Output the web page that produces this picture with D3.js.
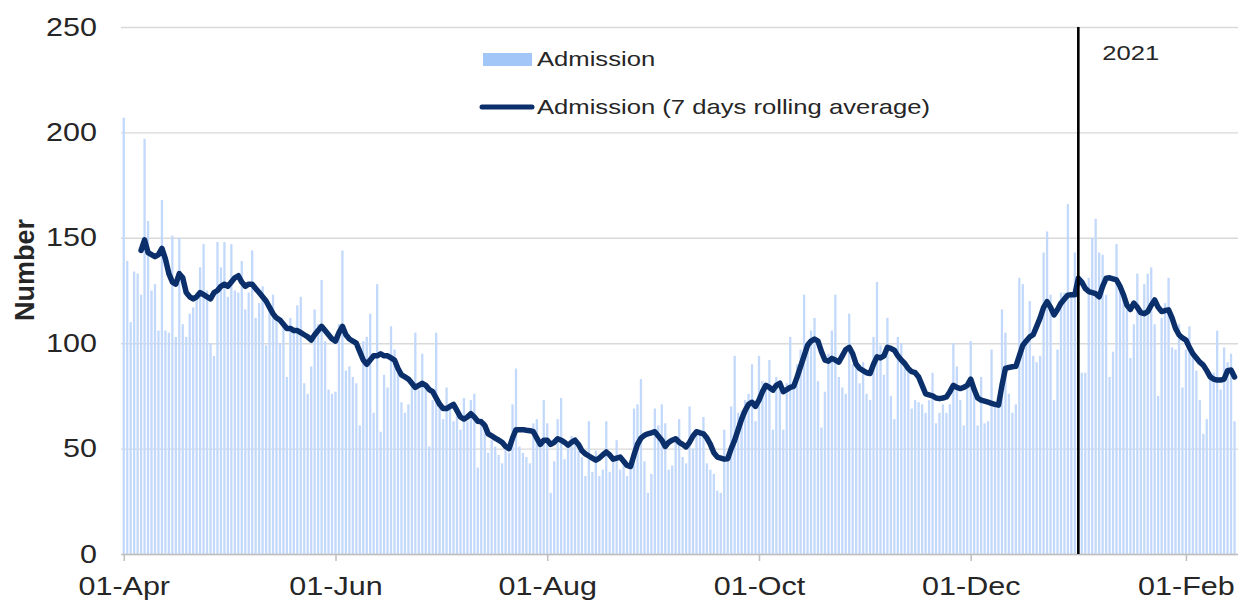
<!DOCTYPE html>
<html>
<head>
<meta charset="utf-8">
<script src="https://cdn.jsdelivr.net/npm/d3@7"></script>
<style>
  body { margin: 0; background: #fff; }
  text { font-family: "Liberation Sans", Arial, sans-serif; fill: #262626; }
</style>
</head>
<body>
<svg width="1238" height="603"></svg>
<script>
// daily admissions, from 01-Apr-2020
const admissions = [
  207,139,110,134,133,123,197,158,125,128, 106,168,106,105,151,103,150,109,103,114,
  117,122,136,147,125,100,94,148,136,148, 122,147,125,124,139,116,124,144,112,119,
  127,99,116,123,112,100,109,84,112,105, 118,122,81,76,89,116,109,130,101,78,
  76,77,109,144,87,89,84,81,61,101, 103,114,67,128,58,85,79,108,97,89,
  72,67,71,81,105,78,95,79,51,73, 105,71,64,79,69,63,70,59,74,63,
  73,76,41,62,63,48,54,51,47,43, 52,48,71,88,51,48,46,43,62,64,
  51,73,62,29,44,64,74,45,51,56, 53,49,46,37,63,39,49,37,40,63,
  39,46,54,40,44,37,41,69,71,83, 44,29,38,69,61,71,62,40,42,56,
  64,46,43,70,50,58,59,65,43,40, 38,30,29,59,45,70,94,67,68,73,
  76,90,63,94,82,79,92,59,84,82, 59,81,103,79,90,97,123,101,106,112,
  82,60,77,95,106,123,84,79,76,114, 90,92,81,91,76,73,103,129,99,85,
  112,75,64,103,100,92,87,69,73,72, 71,67,73,86,62,67,71,67,71,100,
  89,73,61,80,101,78,61,84,62,63, 97,71,74,116,105,76,67,71,131,128,
  101,120,94,91,94,143,153,123,73,97, 124,124,166,123,143,132,86,86,131,150,
  159,143,142,123,84,96,147,125,122,116, 93,109,133,116,128,133,136,109,75,112,
  119,131,98,97,109,79,97,108,94,87, 73,57,64,86,86,106,78,98,91,95,
  63
];

// 7 days rolling average (same days, empty for the first five)
const rollingAvg = [
  null,null,null,null,null,144,149,143,142,141, 142,145,140,133,129,128,133,131,124,122,
  121,122,124,123,122,121,124,125,127,128, 127,129,131,132,129,127,128,128,126,124,
  122,120,117,114,112,111,109,107,107,106, 106,105,104,103,101.5,104,106,108,106,104,
  102,101,105,108,104,102,101,100,96,92, 90,92,94,94,95,94,94,93,92,88,
  85,84,83,81,79,80,81,80,78,77, 74,71,69,69,70,71,68,65,64,65,
  66.6,65,63,62.7,61,57,56,55,54,53, 51,50,55,59,59,59,58.7,58.5,58,55,
  52,54,54,52,53,54.7,54,53,51.6,53, 54,52,49,47.5,46.5,45.5,44.5,45.5,47,48.4,
  47,45,45.5,46,44,42,41.5,47,52,55, 56.3,57,57.5,58,56,54,51,53,54,54.7,
  53,52,50.8,53,56,58,57.5,57,55,52, 48,46,45.5,45,45.2,50,54,59,64,68,
  71,72,70,73,77,80,79,77.7,80,81, 77,78,79,79.5,84,89,94,99,101,102,
  101,96,92,91.5,92.8,92,91,94,97,98, 95,90,88,87,86,85.6,90,93.5,93,94,
  98,97.5,96.7,94,92,90.4,88,86.5,86,84, 80,76,75.5,75,74,73.7,74,74.5,77,80,
  79,78.5,79,80,83,78,74,73,72.5,72, 71.5,71,70.6,80,88,88.5,88.8,89,94,99,
  101,103,104,108,112,117,119.7,117,113.4,116, 119,121,122.8,123,123,130.8,129,126,124.5,124,
  123.5,122,127,130.8,131,130.5,130,127,123,118, 116,119,117,114.5,114,115,118,120.5,117,115,
  115.5,115.8,112,107,104,102.5,101.5,98,95,93, 91,89.6,87,84,83,82.5,82.5,83,87,87.3,
  84
];

const startDate = '2020-04-01';
const xTickDates = ['2020-04-01','2020-06-01','2020-08-01','2020-10-01','2020-12-01','2021-02-01'];
const xTickLabels = ['01-Apr','01-Jun','01-Aug','01-Oct','01-Dec','01-Feb'];
const yTicks = [0,50,100,150,200,250];
const markerDate = '2021-01-01';
const markerLabel = '2021';
const seriesNames = ['Admission','Admission (7 days rolling average)'];
const yTitle = 'Number';

const svg = d3.select('svg');
const width = +svg.attr('width');
const height = +svg.attr('height');
const margin = {top: 27, right: 0, bottom: 49, left: 121};
const innerWidth = width - margin.left - margin.right;
const innerHeight = height - margin.top - margin.bottom;

// text in the original is a bit wider than normal Arial
const stretch = 1.22;
const widen = sel => sel.each(function() {
  const len = this.getComputedTextLength();
  d3.select(this)
    .attr('textLength', len * stretch)
    .attr('lengthAdjust', 'spacingAndGlyphs');
});

const parse = d3.utcParse('%Y-%m-%d');
const start = parse(startDate);
const data = admissions.map((v, i) => ({
  date: d3.utcDay.offset(start, i),
  value: v,
  avg: rollingAvg[i]
}));

const xScale = d3.scaleUtc()
  .domain([d3.utcHour.offset(start, -19), d3.utcDay.offset(start, admissions.length)])
  .range([0, innerWidth]);

const yScale = d3.scaleLinear()
  .domain([0, 250])
  .range([innerHeight, 0]);

const g = svg.append('g')
  .attr('transform', `translate(${margin.left},${margin.top})`);

// y axis + gridlines
const yAxisG = g.append('g')
  .call(d3.axisLeft(yScale).tickValues(yTicks).tickSize(-innerWidth).tickPadding(24));
yAxisG.select('.domain').remove();
yAxisG.selectAll('.tick line')
  .attr('stroke', '#d9d9d9')
  .attr('stroke-width', 1.4);
yAxisG.selectAll('.tick text')
  .attr('font-size', 25)
  .attr('fill', '#262626')
  .call(widen);

// bars
const barW = 2.3;
g.selectAll('rect.bar').data(data)
  .enter().append('rect')
    .attr('class', 'bar')
    .attr('x', d => xScale(d.date) - barW / 2)
    .attr('y', d => yScale(d.value))
    .attr('width', barW)
    .attr('height', d => innerHeight - yScale(d.value))
    .attr('fill', '#c3d9fb');

// x axis
const xAxis = d3.axisBottom(xScale)
  .tickValues(xTickDates.map(parse))
  .tickFormat((d, i) => xTickLabels[i])
  .tickSize(7)
  .tickSizeOuter(0)
  .tickPadding(16);
const xAxisG = g.append('g')
  .attr('transform', `translate(0,${innerHeight})`)
  .call(xAxis);
xAxisG.select('.domain')
  .attr('stroke', '#bfbfbf')
  .attr('stroke-width', 1.5);
xAxisG.selectAll('.tick line')
  .attr('stroke', '#bfbfbf')
  .attr('stroke-width', 1.5);
xAxisG.selectAll('.tick text')
  .attr('font-size', 25)
  .attr('fill', '#262626')
  .call(widen);

// rolling average line
const line = d3.line()
  .defined(d => d.avg != null)
  .x(d => xScale(d.date))
  .y(d => yScale(d.avg));

g.append('path')
  .datum(data)
  .attr('d', line)
  .attr('fill', 'none')
  .attr('stroke', '#0a2f6a')
  .attr('stroke-width', 5.5)
  .attr('stroke-linejoin', 'round')
  .attr('stroke-linecap', 'round');

// year marker
const mx = xScale(parse(markerDate));
g.append('line')
  .attr('x1', mx).attr('x2', mx)
  .attr('y1', yScale(250)).attr('y2', innerHeight)
  .attr('stroke', '#000')
  .attr('stroke-width', 2.6);
g.append('text')
  .attr('x', mx + 24)
  .attr('y', yScale(250) + 26)
  .attr('dy', '0.35em')
  .attr('font-size', 21)
  .text(markerLabel)
  .call(widen);

// legend
const legend = svg.append('g');
legend.append('rect')
  .attr('x', 483).attr('y', 53)
  .attr('width', 49).attr('height', 13)
  .attr('fill', '#a3c6f8');
legend.append('text')
  .attr('x', 537).attr('y', 59)
  .attr('dy', '0.35em')
  .attr('font-size', 21)
  .text(seriesNames[0])
  .call(widen);
legend.append('line')
  .attr('x1', 482).attr('x2', 532)
  .attr('y1', 107).attr('y2', 107)
  .attr('stroke', '#0a2f6a')
  .attr('stroke-width', 5)
  .attr('stroke-linecap', 'round');
legend.append('text')
  .attr('x', 537).attr('y', 107)
  .attr('dy', '0.35em')
  .attr('font-size', 21)
  .text(seriesNames[1])
  .call(widen);

// y title
svg.append('text')
  .attr('transform', 'translate(25,270) rotate(-90)')
  .attr('text-anchor', 'middle')
  .attr('dy', '0.35em')
  .attr('font-size', 27)
  .attr('font-weight', 'bold')
  .attr('fill', '#1a1a1a')
  .text(yTitle);
</script>
</body>
</html>
